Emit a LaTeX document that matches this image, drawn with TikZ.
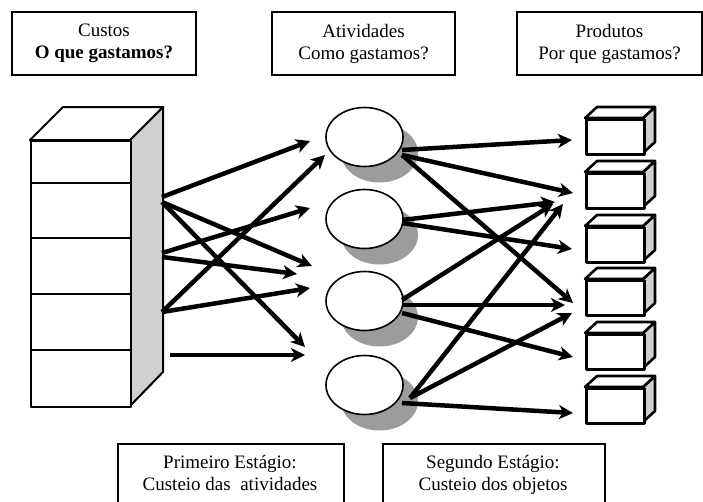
\documentclass[tikz,border=0pt]{standalone}
\usepackage{fontspec}
\setmainfont{Liberation Serif}
\usetikzlibrary{arrows.meta,shapes.geometric}
\definecolor{sidegray}{HTML}{D0D0D0}
\definecolor{shadowgray}{HTML}{9C9C9C}
\begin{document}
\begin{tikzpicture}[x=1pt,y=-1pt,
  lbl/.style={draw,line width=1.5pt,align=center,font=\fontsize{19}{22}\selectfont,inner sep=0pt},
  cab/.style={draw,line width=2pt,line join=round},
  shelf/.style={line width=2pt},
  act/.style={draw,ellipse,line width=1.6pt,fill=white,minimum width=77pt,minimum height=59pt,inner sep=0pt},
  shad/.style={ellipse,fill=shadowgray,minimum width=77pt,minimum height=59pt,inner sep=0pt},
  prod/.style={draw,line width=2.6pt,line join=round},
  arr/.style={line width=4.5pt,-{Stealth[length=14pt,width=14pt,inset=4pt]}}]
\useasboundingbox (0,0) rectangle (703,501);

% header boxes
\node[lbl,minimum width=184pt,minimum height=63pt] (h1) at (104,43.5) {Custos\\\textbf{O que gastamos?}};
\node[lbl,minimum width=183pt,minimum height=63pt] (h2) at (363.5,43.5) {Atividades\\Como gastamos?};
\node[lbl,minimum width=185pt,minimum height=63pt] (h3) at (609.5,43.5) {Produtos\\Por que gastamos?};

% footer boxes
\node[lbl,minimum width=226pt,minimum height=80pt,anchor=north west] (f1) at (117,443) {};
\node[lbl,minimum width=222pt,minimum height=80pt,anchor=north west] (f2) at (382,443) {};
\node[font=\fontsize{19}{22}\selectfont,align=center,anchor=north,inner sep=0pt] (f1t) at (230,455) {Primeiro Estágio:\\Custeio das~ atividades};
\node[font=\fontsize{19}{22}\selectfont,align=center,anchor=north,inner sep=0pt] (f2t) at (493,455) {Segundo Estágio:\\Custeio dos objetos};

% cabinet
\path[cab,fill=sidegray] (130,140) -- (163,107) -- (163,372) -- (130,406) -- cycle;
\path[cab,fill=white] (30,140) -- (63,107) -- (163,107) -- (130,140) -- cycle;
\node[cab,fill=white,minimum width=100pt,minimum height=266pt,anchor=north west,inner sep=0pt] (cab) at (30,140) {};
\foreach \y in {183,238,294,350} \draw[shelf] (32,\y) -- (132,\y);

% activities
\foreach \c [count=\i] in {137,219,301,385} {
  \node[shad] (s\i) at (379.5,\c+16) {};
}
\foreach \c [count=\i] in {137,219,301,385} {
  \node[act] (a\i) at (364.5,\c) {};
}

% products
\foreach \t [count=\i] in {118,172,226,279,333,387} {
  \path[prod,fill=sidegray] (643,\t) -- (655,\t-11) -- (655,\t+24) -- (643,\t+35) -- cycle;
  \path[prod,fill=white] (585,\t) -- (597,\t-11) -- (655,\t-11) -- (643,\t) -- cycle;
  \node[prod,fill=white,minimum width=58pt,minimum height=35pt,anchor=north west,inner sep=0pt] (p\i) at (585,\t) {};
}

% arrow coordinates, first stage
\coordinate (L1a) at (162,197);
\coordinate (L1b) at (162,202);
\coordinate (L2a) at (162,253);
\coordinate (L2b) at (162,257);
\coordinate (L3) at (162,312);
\coordinate (L4) at (170,355);
\coordinate (TA) at (310,141);
\coordinate (TB) at (325,155);
\coordinate (TC) at (310,208);
\coordinate (TD) at (312,266);
\coordinate (TE) at (297,274);
\coordinate (TF) at (310,288);
\coordinate (TG) at (305,347);
\coordinate (TH) at (305,355);
\draw[arr] (L1a) -- (TA);
\draw[arr] (L3) -- (TB);
\draw[arr] (L2a) -- (TC);
\draw[arr] (L1b) -- (TD);
\draw[arr] (L2b) -- (TE);
\draw[arr] (L3) -- (TF);
\draw[arr] (L1b) -- (TG);
\draw[arr] (L4) -- (TH);

% second stage
\coordinate (E1a) at (402,150);
\coordinate (E1b) at (402,155);
\coordinate (E2a) at (402,220);
\coordinate (E2b) at (402,223);
\coordinate (E3a) at (402,300);
\coordinate (E3b) at (402,305);
\coordinate (E3c) at (402,313);
\coordinate (E4a) at (410,398);
\coordinate (E4b) at (402,403);
\coordinate (Q1) at (572,140);
\coordinate (Q2) at (573,193);
\coordinate (Q3) at (573,303);
\coordinate (Q4) at (555,202);
\coordinate (Q5) at (572,249);
\coordinate (Q6) at (553,204);
\coordinate (Q7) at (565,305);
\coordinate (Q8) at (573,357);
\coordinate (Q9) at (563,204);
\coordinate (Q10) at (572,313);
\coordinate (Q11) at (573,413);
\draw[arr] (E1a) -- (Q1);
\draw[arr] (E1b) -- (Q2);
\draw[arr] (E1b) -- (Q3);
\draw[arr] (E2a) -- (Q4);
\draw[arr] (E2b) -- (Q5);
\draw[arr] (E3a) -- (Q6);
\draw[arr] (E3b) -- (Q7);
\draw[arr] (E3c) -- (Q8);
\draw[arr] (E4a) -- (Q9);
\draw[arr] (E4a) -- (Q10);
\draw[arr] (E4b) -- (Q11);
\end{tikzpicture}
\end{document}
